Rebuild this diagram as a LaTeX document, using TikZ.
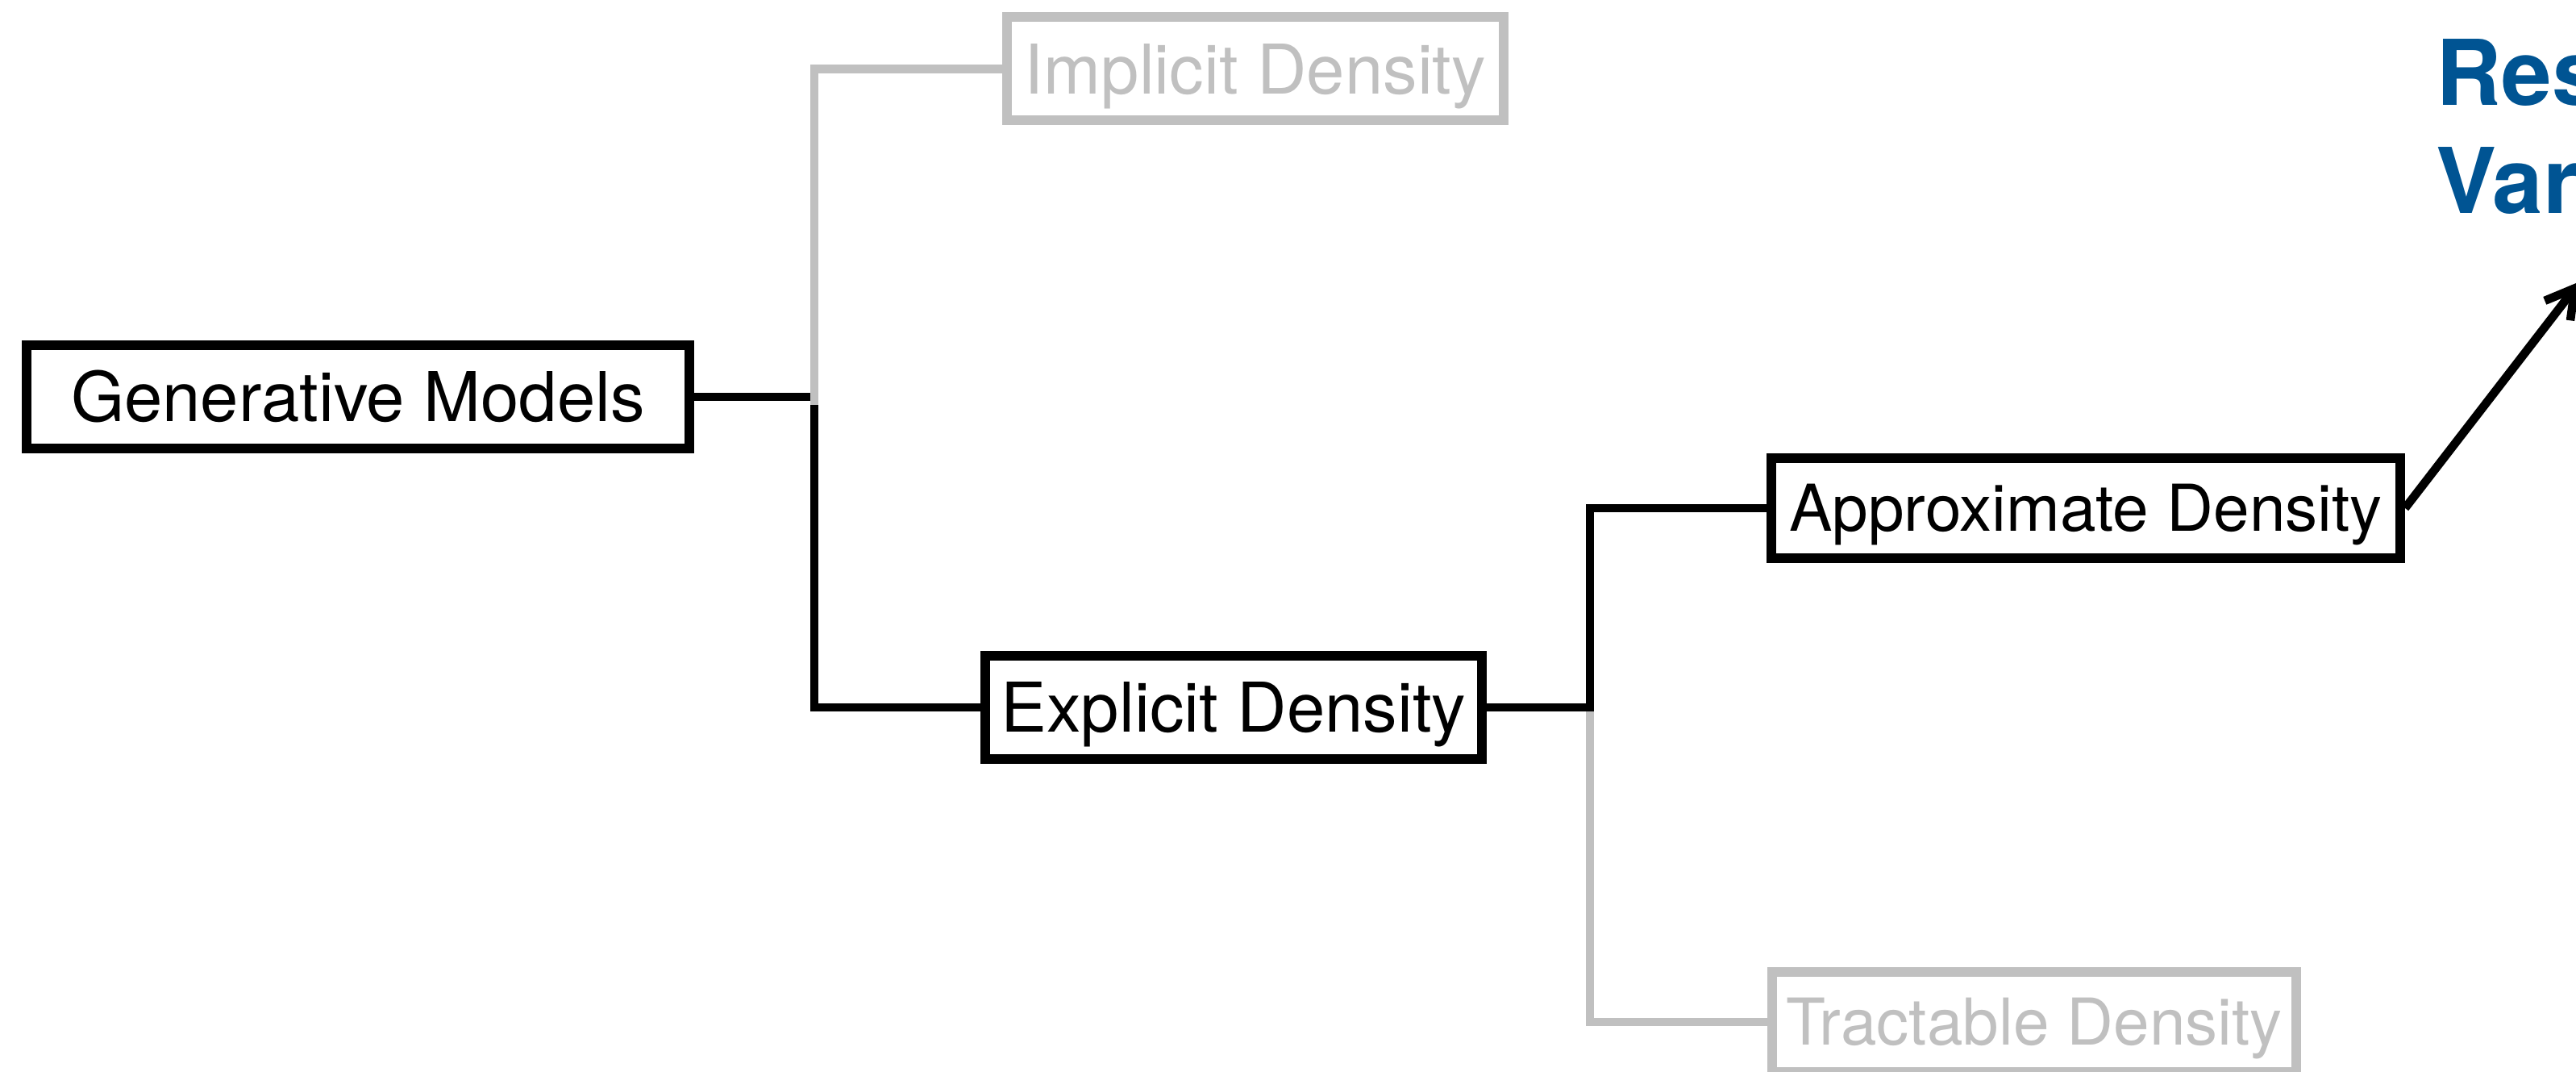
\documentclass[tikz,border=0pt]{standalone}
\usepackage{fontspec}
\setmainfont{TeX Gyre Heros}
\usetikzlibrary{arrows.meta}

\definecolor{fadegray}{RGB}{192,192,192}
\definecolor{vaeblue}{RGB}{0,84,147}

\tikzset{
  box/.style={draw, line width=3.4pt, inner sep=0pt, minimum height=1.28cm,
    font=\fontsize{24.2pt}{29pt}\selectfont, text height=17.4pt, text depth=0pt},
  smallbox/.style={box, minimum height=1.24cm,
    font=\fontsize{22.8pt}{27pt}\selectfont, text height=16.4pt},
  faded/.style={draw=fadegray, text=fadegray},
  link/.style={line width=3pt},
  vae/.style={anchor=north west, inner sep=0pt, align=left, text=vaeblue,
    font=\bfseries\fontsize{32pt}{38.1pt}\selectfont},
}

\begin{document}
\begin{tikzpicture}[>={Straight Barb[length=3.5mm,width=4mm]}]
    \useasboundingbox (0,0) rectangle (31.95,13.29);
    \clip (0,0) rectangle (31.95,13.29);

    % Boxes of the tree
    \node[box, minimum width=8.22cm] (gen) at (4.44,8.37) {Generative Models};
    \node[box, faded, minimum width=6.16cm] (implicit) at (15.57,12.435) {Implicit Density};
    \node[box, minimum width=6.16cm] (explicit) at (15.30,4.52) {Explicit Density};
    \node[smallbox, minimum width=7.80cm] (approx) at (25.87,6.99) {Approximate Density};
    \node[smallbox, faded, minimum width=6.50cm] (tractable) at (25.23,0.62) {Tractable Density};

    % Next level, running off the right edge
    \node[vae] (vae) at (30.21,12.81) {Res\\Var};
    \coordinate (vaetip) at (32.00,9.80);

    % Split points
    \coordinate (split1) at (10.10,8.37);
    \coordinate (split2) at (19.72,4.52);

    % First split, grey branch on top
    \draw[link] (gen.east) -- (split1);
    \draw[link] (split1) |- (explicit.west);
    \draw[link, fadegray] ([yshift=-1mm]split1) |- (implicit.west);

    % Second split, black branch on top
    \draw[link, fadegray] (split2) |- (tractable.west);
    \draw[link] (explicit.east) -- (split2);
    \draw[link] ([yshift=-0.5mm]split2) |- (approx.west);

    % Arrow on to the next box
    \draw[link, ->] (approx.east) -- (vaetip);
\end{tikzpicture}
\end{document}
